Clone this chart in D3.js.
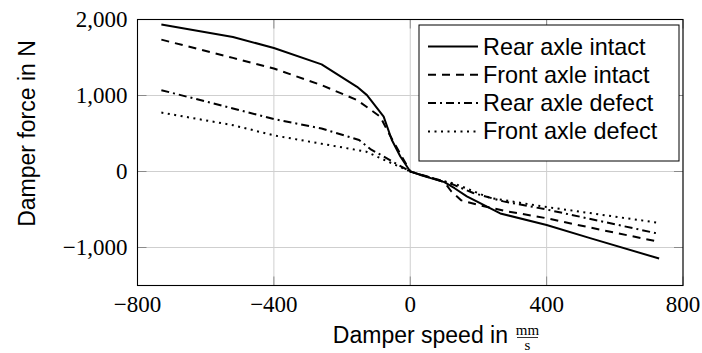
<!DOCTYPE html>
<html>
<head>
<meta charset="utf-8">
<script src="https://cdn.jsdelivr.net/npm/d3@7"></script>
<style>
  body { margin: 0; background: #fff; }
  svg { display: block; }
  .serif { font-family: "Liberation Serif", "DejaVu Serif", serif; }
  .sans { font-family: "Liberation Sans", Arial, sans-serif; }
</style>
</head>
<body>
<svg></svg>
<script>
// damper characteristic, speed in mm/s, force in N
var seriesNames = ["Rear axle intact", "Front axle intact", "Rear axle defect", "Front axle defect"];
var seriesDash = [null, "8,6", "8,4,2,4", "2,4.5"];

var rearIntactSpeed = [-730, -520, -400, -260, -156, -127, -78, -54, -29, 0, 30, 70, 100, 130, 166, 264, 400, 530, 730];
var rearIntactForce = [1935, 1770, 1625, 1410, 1114, 1005, 721, 415, 197, 0, -45, -100, -140, -220, -327, -552, -705, -880, -1145];

var frontIntactSpeed = [-730, -520, -400, -260, -156, -88, -68, -50, -25, 0, 50, 100, 120, 150, 200, 284, 400, 530, 730];
var frontIntactForce = [1735, 1495, 1355, 1136, 940, 721, 546, 400, 200, 0, -65, -140, -260, -380, -440, -524, -615, -740, -925];

var rearDefectSpeed = [-730, -520, -400, -260, -150, -117, -78, -40, 0, 50, 100, 130, 185, 273, 400, 730];
var rearDefectForce = [1070, 830, 690, 565, 415, 295, 197, 100, 0, -70, -130, -180, -283, -393, -500, -820];

var frontDefectSpeed = [-730, -520, -400, -260, -130, -98, -50, 0, 50, 100, 130, 235, 400, 730];
var frontDefectForce = [775, 610, 475, 365, 262, 197, 100, 0, -70, -130, -160, -349, -467, -676];

var xTicks = [-800, -400, 0, 400, 800];
var yTicks = [-1000, 0, 1000, 2000];

var series = [
  { name: seriesNames[0], speed: rearIntactSpeed, force: rearIntactForce, dash: seriesDash[0] },
  { name: seriesNames[1], speed: frontIntactSpeed, force: frontIntactForce, dash: seriesDash[1] },
  { name: seriesNames[2], speed: rearDefectSpeed, force: rearDefectForce, dash: seriesDash[2] },
  { name: seriesNames[3], speed: frontDefectSpeed, force: frontDefectForce, dash: seriesDash[3] }
];

var W = 702, H = 353;
var margin = { top: 19.5, right: 19, bottom: 67.5, left: 137.5 };
var svg = d3.select("svg").attr("width", W).attr("height", H);
var iw = W - margin.left - margin.right, ih = H - margin.top - margin.bottom;
var g = svg.append("g").attr("transform", "translate(" + margin.left + "," + margin.top + ")");

var x = d3.scaleLinear().domain([-800, 800]).range([0, iw]);
var y = d3.scaleLinear().domain([-1500, 2000]).range([ih, 0]);

// grid
g.selectAll(".gx").data(xTicks).enter().append("line")
  .attr("x1", d => x(d)).attr("x2", d => x(d)).attr("y1", 0).attr("y2", ih)
  .attr("stroke", "#cfcfcf").attr("stroke-width", 1);
g.selectAll(".gy").data(yTicks).enter().append("line")
  .attr("y1", d => y(d)).attr("y2", d => y(d)).attr("x1", 0).attr("x2", iw)
  .attr("stroke", "#cfcfcf").attr("stroke-width", 1);

// ticks inside on all four sides
var tl = 9;
xTicks.forEach(function(t) {
  g.append("line").attr("x1", x(t)).attr("x2", x(t)).attr("y1", ih).attr("y2", ih - tl).attr("stroke", "#8a8a8a");
  g.append("line").attr("x1", x(t)).attr("x2", x(t)).attr("y1", 0).attr("y2", tl).attr("stroke", "#8a8a8a");
});
yTicks.forEach(function(t) {
  g.append("line").attr("y1", y(t)).attr("y2", y(t)).attr("x1", 0).attr("x2", tl).attr("stroke", "#8a8a8a");
  g.append("line").attr("y1", y(t)).attr("y2", y(t)).attr("x1", iw).attr("x2", iw - tl).attr("stroke", "#8a8a8a");
});

// tick labels
var fmt = d3.format(",");
g.selectAll(".xl").data(xTicks).enter().append("text")
  .attr("class", "serif")
  .attr("x", d => x(d)).attr("y", ih + 26)
  .attr("text-anchor", "middle")
  .attr("font-size", 23)
  .text(d => fmt(d));
g.selectAll(".yl").data(yTicks).enter().append("text")
  .attr("class", "serif")
  .attr("x", -10).attr("y", d => y(d)).attr("dy", "0.33em")
  .attr("text-anchor", "end")
  .attr("font-size", 23)
  .text(d => fmt(d));

// data lines
var line = d3.line()
  .x(d => x(d[0]))
  .y(d => y(d[1]));

series.forEach(function(s) {
  var pts = s.speed.map((v, i) => [v, s.force[i]]);
  g.append("path")
    .datum(pts)
    .attr("d", line)
    .attr("fill", "none")
    .attr("stroke", "#000")
    .attr("stroke-width", 2)
    .attr("stroke-linejoin", "round")
    .attr("stroke-dasharray", s.dash);
});

// frame
g.append("rect").attr("width", iw).attr("height", ih)
  .attr("fill", "none").attr("stroke", "#000").attr("stroke-width", 1.1);

// legend
var lg = svg.append("g").attr("transform", "translate(419,25)");
lg.append("rect").attr("width", 260).attr("height", 136)
  .attr("fill", "#fff").attr("stroke", "#000").attr("stroke-width", 1);
series.forEach(function(s, i) {
  var by = 29.5 + i * 28.3;
  lg.append("line").attr("x1", 9).attr("x2", 59).attr("y1", by - 8).attr("y2", by - 8)
    .attr("stroke", "#000").attr("stroke-width", 2).attr("stroke-dasharray", s.dash);
  lg.append("text").attr("class", "sans").attr("x", 64).attr("y", by)
    .attr("font-size", 23.4)
    .text(s.name);
});

// axis titles
svg.append("text").attr("class", "sans")
  .attr("transform", "translate(35," + (margin.top + ih / 2 - 19) + ") rotate(-90)")
  .attr("text-anchor", "middle")
  .attr("font-size", 23)
  .text("Damper force in N");

var xt = svg.append("g").attr("transform", "translate(0,343)");
xt.append("text").attr("class", "sans").attr("x", 508).attr("y", 0).attr("text-anchor", "end")
  .attr("font-size", 23)
  .text("Damper speed in");
xt.append("text").attr("class", "serif").attr("x", 527.5).attr("y", -8).attr("text-anchor", "middle")
  .attr("font-size", 15).text("mm");
xt.append("line").attr("x1", 517).attr("x2", 538).attr("y1", -5.5).attr("y2", -5.5)
  .attr("stroke", "#000").attr("stroke-width", 0.8);
xt.append("text").attr("class", "serif").attr("x", 527.5).attr("y", 7).attr("text-anchor", "middle")
  .attr("font-size", 15).text("s");
</script>
</body>
</html>
